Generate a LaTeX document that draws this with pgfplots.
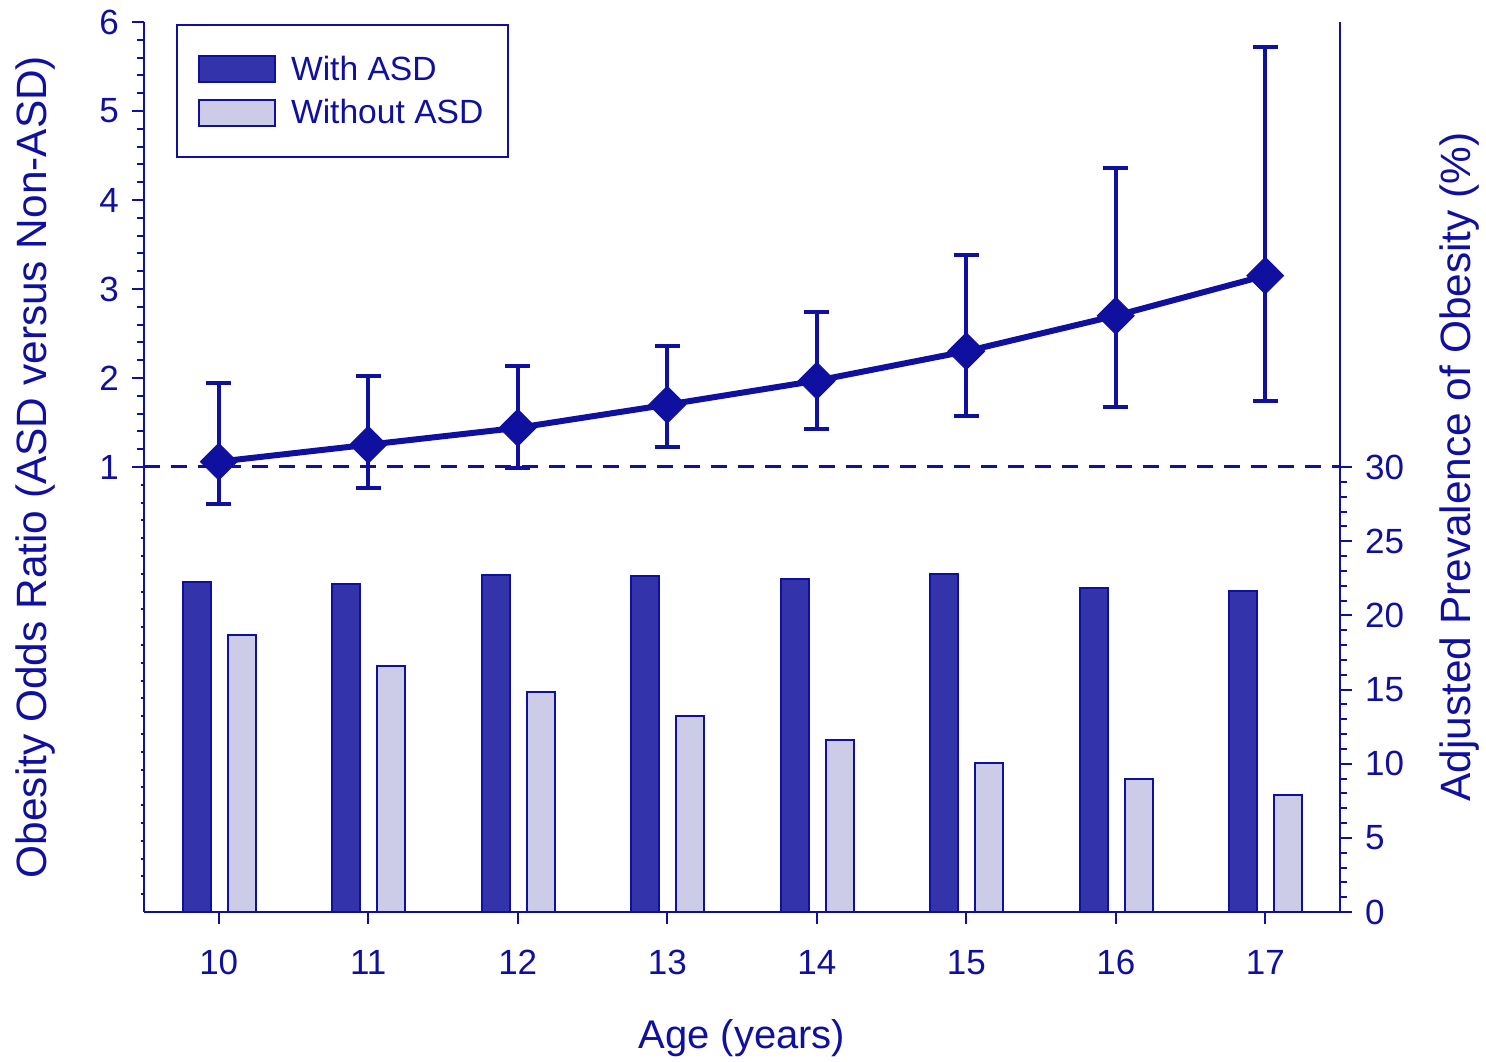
\documentclass[border=0pt]{standalone}
\usepackage{fontspec}
\setmainfont{Liberation Sans}
\usepackage{pgfplots}
\pgfplotsset{compat=1.18}
\definecolor{navy}{RGB}{16,16,160}
\definecolor{darkbar}{RGB}{51,51,170}
\definecolor{lightbar}{RGB}{204,204,232}

\pgfplotstableread{
age with without
10 22.25 18.7
11 22.1 16.6
12 22.7 14.8
13 22.65 13.2
14 22.45 11.6
15 22.8 10.05
16 21.85 8.97
17 21.65 7.9
}\bars

\begin{document}
\begin{tikzpicture}
\useasboundingbox (-72pt,-74.5pt) rectangle (671pt,456pt);
% ---------- right axis: bars ----------
\begin{axis}[
  at={(0pt,0pt)}, anchor=south west,
  scale only axis, width=598pt, height=445pt,
  xmin=9.5, xmax=17.5, ymin=0, ymax=60,
  axis x line=none, axis y line*=right,
  axis line style={navy, line width=1pt, -},
  tick align=outside,
  ytick={0,5,10,15,20,25,30},
  minor ytick={1,2,3,4,6,7,8,9,11,12,13,14,16,17,18,19,21,22,23,24,26,27,28,29},
  major tick length=6pt, minor tick length=3.5pt,
  every tick/.style={navy, line width=1pt},
  /pgf/number format/assume math mode=true,
  tick label style={font=\fontsize{17.5}{20}\selectfont, text=navy},
  yticklabel style={xshift=3pt},
  ylabel={Adjusted Prevalence of Obesity (\%)},
  label style={font=\fontsize{21.2}{25}\selectfont, text=navy},
  ylabel style={at={(axis description cs:1.1003,0.5)}, anchor=center},
  clip=false,
  legend cell align=left,
  legend style={at={(axis description cs:0.0268,0.998)}, anchor=north west,
    draw=navy, line width=1pt, font=\fontsize{16.8}{20}\selectfont, text=navy,
    inner xsep=10.5pt, inner ysep=13.5pt, row sep=4pt,
    /tikz/every odd column/.append style={column sep=5.5pt}},
]
\addplot[ybar, bar width=14pt, bar shift=-11pt, fill=darkbar, draw=navy, line width=1pt,
  legend image code/.code={\draw[fill=darkbar, draw=navy, line width=1pt] (0pt,-6.5pt) rectangle (38pt,6.5pt);}]
  table[x=age, y=with] {\bars};
\addlegendentry{With ASD}
\addplot[ybar, bar width=14pt, bar shift=11.5pt, fill=lightbar, draw=navy, line width=1pt,
  legend image code/.code={\draw[fill=lightbar, draw=navy, line width=1pt] (0pt,-6.5pt) rectangle (38pt,6.5pt);}]
  table[x=age, y=without] {\bars};
\addlegendentry{Without ASD}
\end{axis}
% ---------- left axis: odds ratio ----------
\begin{axis}[
  at={(0pt,0pt)}, anchor=south west,
  scale only axis, width=598pt, height=445pt,
  xmin=9.5, xmax=17.5, ymin=-4, ymax=6,
  axis x line*=bottom, axis y line*=left,
  axis line style={navy, line width=1pt, -},
  tick align=outside,
  xtick={10,11,12,13,14,15,16,17},
  ytick={1,2,3,4,5,6},
  minor ytick={1.2,1.4,1.6,1.8,2.2,2.4,2.6,2.8,3.2,3.4,3.6,3.8,4.2,4.4,4.6,4.8,5.2,5.4,5.6,5.8},
  extra y ticks={-3.8,-3.6,-3.4,-3.2,-3,-2.8,-2.6,-2.4,-2.2,-2,-1.8,-1.6,-1.4,-1.2,-1,-0.8,-0.6,-0.4,-0.2,0,0.2,0.4,0.6,0.8},
  extra y tick labels={},
  extra y tick style={major tick length=1.5pt},
  major tick length=6pt, minor tick length=3.5pt,
  every tick/.style={navy, line width=1pt},
  /pgf/number format/assume math mode=true,
  tick label style={font=\fontsize{17.5}{20}\selectfont, text=navy},
  yticklabel style={xshift=-3pt},
  xticklabel style={yshift=-9.5pt},
  xlabel={Age (years)},
  ylabel={Obesity Odds Ratio (ASD versus Non-ASD)},
  xlabel style={font=\fontsize{20}{24}\selectfont, text=navy, at={(axis description cs:0.5,-0.1416)}, anchor=center},
  ylabel style={font=\fontsize{21.2}{25}\selectfont, text=navy, at={(axis description cs:-0.0911,0.5)}, anchor=center},
  clip=false,
]
\addplot[navy, line width=1.5pt, dash pattern=on 8pt off 5.5pt, forget plot]
  coordinates {(9.5,1) (17.5,1)};
\addplot[navy, line width=3pt, mark=square*, mark size=6.5pt,
  mark options={rotate=45, fill=navy, line width=0.5pt, solid},
  error bars/.cd, y dir=both, y explicit,
  error mark=|, error mark options={navy, line width=2pt, mark size=6.25pt},
  error bar style={navy, line width=2pt}]
  coordinates {
  (10,1.06) += (0,0.88) -= (0,0.48)
  (11,1.25) += (0,0.77) -= (0,0.49)
  (12,1.44) += (0,0.69) -= (0,0.45)
  (13,1.70) += (0,0.66) -= (0,0.48)
  (14,1.97) += (0,0.77) -= (0,0.54)
  (15,2.30) += (0,1.08) -= (0,0.73)
  (16,2.70) += (0,1.66) -= (0,1.03)
  (17,3.15) += (0,2.57) -= (0,1.41)
  };
\end{axis}
\end{tikzpicture}
\end{document}
